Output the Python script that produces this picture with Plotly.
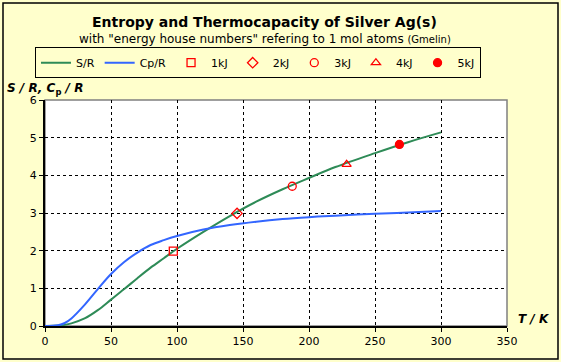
import plotly.graph_objects as go

T = [0, 10, 15, 20, 30, 40, 50, 60, 70, 80, 90, 100, 120, 140, 160, 180, 200, 220, 250, 275, 300]
S_R = [0, 0.01, 0.03, 0.07, 0.2, 0.42, 0.7, 0.98, 1.27, 1.55, 1.8, 2.05, 2.5, 2.92, 3.3, 3.63, 3.93, 4.22, 4.59, 4.88, 5.14]
Cp_R = [0, 0.02, 0.08, 0.2, 0.56, 0.98, 1.38, 1.7, 1.95, 2.15, 2.28, 2.39, 2.56, 2.68, 2.77, 2.84, 2.89, 2.93, 2.98, 3.01, 3.05]

marker_names = ["1kJ", "2kJ", "3kJ", "4kJ", "5kJ"]
marker_T = [97.2, 145.5, 187.3, 228.5, 268.5]
marker_S = [1.99, 2.99, 3.71, 4.29, 4.82]
marker_symbols = ["square-open", "diamond-open", "circle-open", "triangle-up-open", "circle"]

FONT = "DejaVu Sans"
fig = go.Figure()
fig.add_trace(go.Scatter(x=T, y=S_R, mode="lines", name="S/R",
                         line=dict(color="#2E8B57", width=2, shape="spline")))
fig.add_trace(go.Scatter(x=T, y=Cp_R, mode="lines", name="Cp/R",
                         line=dict(color="#3366FF", width=2, shape="spline")))
for n, tx, sy, sym in zip(marker_names, marker_T, marker_S, marker_symbols):
    fig.add_trace(go.Scatter(x=[tx], y=[sy], mode="markers", name=n,
                             marker=dict(symbol=sym, color="#FF0000", size=8,
                                         line=dict(color="#FF0000", width=1.3))))

fig.update_layout(
    width=561, height=362,
    margin=dict(l=45, r=54, t=100, b=36, autoexpand=False),
    paper_bgcolor="#FFFFCC", plot_bgcolor="#FFFFFF",
    font=dict(family=FONT, size=12, color="#000000"),
    showlegend=True,
    legend=dict(orientation="h", x=0.461, xanchor="center", y=1.165, yanchor="middle",
                bgcolor="#FFFFCC", bordercolor="#000000", borderwidth=1,
                font=dict(family=FONT, size=11), itemwidth=30, tracegroupgap=0,
                traceorder="normal"),
    xaxis=dict(range=[0, 350], dtick=50, showgrid=True, gridcolor="#000000",
               griddash="3px,3px", gridwidth=1, zeroline=False,
               showline=True, linecolor="#000000", linewidth=2,
               ticks="outside", ticklen=4, tickcolor="#000000",
               tickfont=dict(family=FONT, size=11), mirror=False),
    yaxis=dict(range=[0, 6], dtick=1, showgrid=True, gridcolor="#000000",
               griddash="3px,3px", gridwidth=1, zeroline=False,
               showline=True, linecolor="#000000", linewidth=2,
               ticks="outside", ticklen=4, tickcolor="#000000",
               tickfont=dict(family=FONT, size=11)),
    annotations=[
        dict(text="<b>Entropy and Thermocapacity of Silver Ag(s)</b>", x=0.476, y=1.345,
             xref="paper", yref="paper", xanchor="center", yanchor="middle",
             showarrow=False, font=dict(family=FONT, size=14)),
        dict(text='with "energy house numbers" refering to 1 mol atoms <span style="font-size:10px">(Gmelin)</span>',
             x=0.476, y=1.27, xref="paper", yref="paper", xanchor="center", yanchor="middle",
             showarrow=False, font=dict(family=FONT, size=12)),
        dict(text="<b><i>S / R, C</i><sub>p</sub><i> / R</i></b>", x=-0.087, y=1.05,
             xref="paper", yref="paper", xanchor="left", yanchor="middle",
             showarrow=False, font=dict(family=FONT, size=12)),
        dict(text="<b><i>T / K</i></b>", x=1.02, y=0.03,
             xref="paper", yref="paper", xanchor="left", yanchor="middle",
             showarrow=False, font=dict(family=FONT, size=12)),
    ],
    shapes=[
        dict(type="rect", xref="paper", yref="paper", x0=0, x1=1, y0=0, y1=1,
             line=dict(color="#808080", width=1.5), layer="below"),
        dict(type="rect", xref="paper", yref="paper",
             x0=(3 - 45) / 462, x1=(558 - 45) / 462,
             y0=(326 - 359) / 226, y1=(326 - 3) / 226,
             line=dict(color="#000000", width=1.5)),
    ],
)
fig.write_html("out.html", config={"displayModeBar": False},
               post_script="document.body.style.margin='0';document.body.style.overflow='hidden';")
